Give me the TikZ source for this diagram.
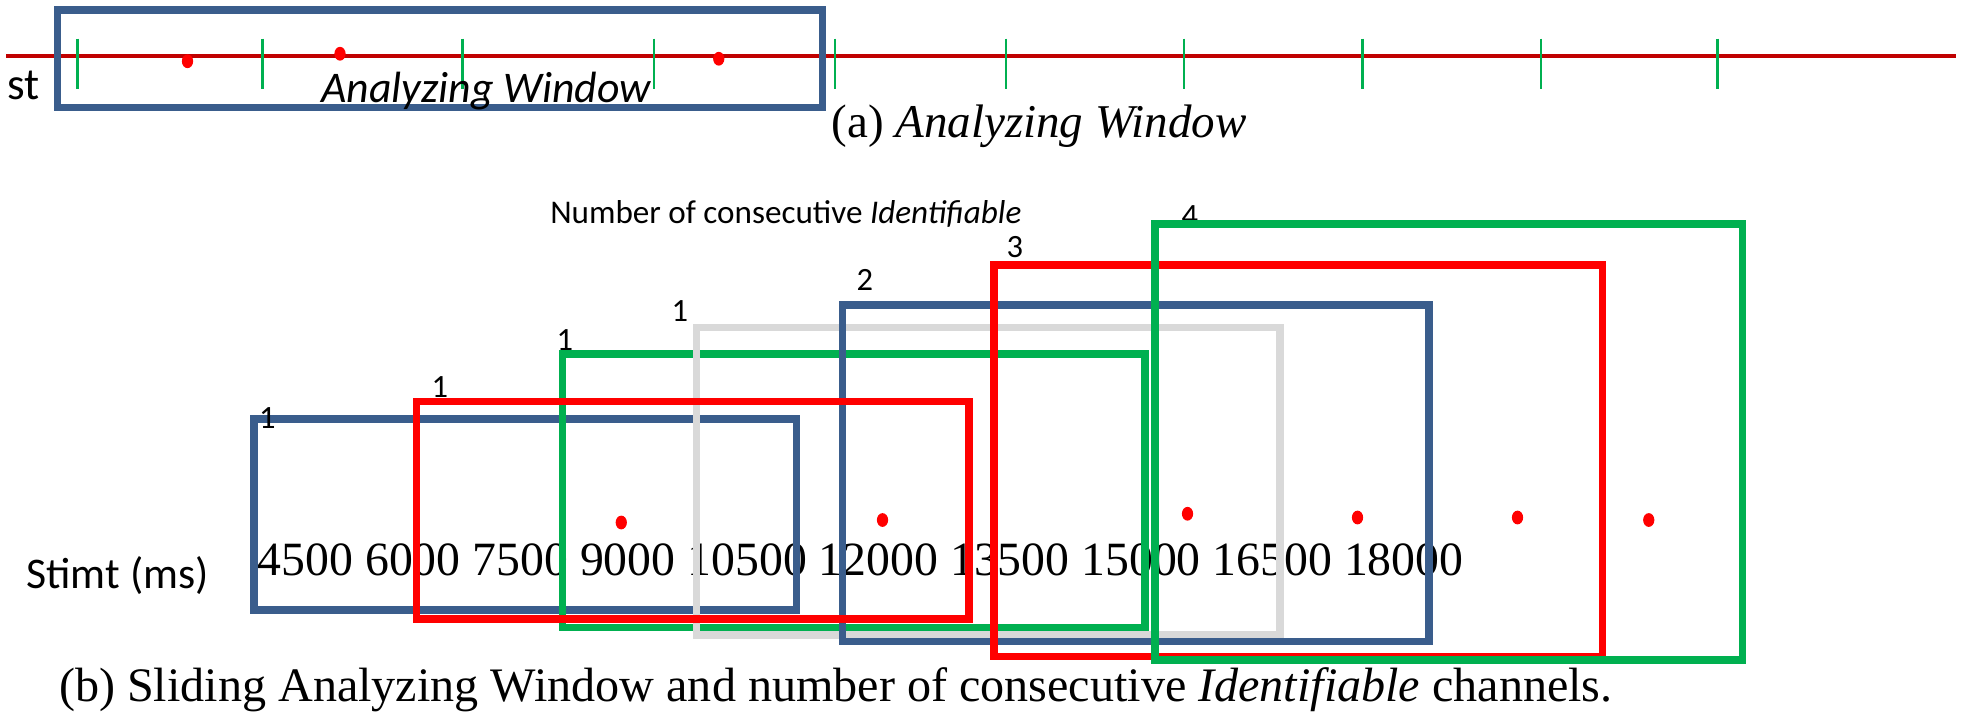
\documentclass[tikz,border=0pt]{standalone}
\usepackage{fontspec}
\setmainfont{Liberation Serif}
\newfontfamily\calfont{Carlito}
\definecolor{boxblue}{HTML}{3A5D8C}
\definecolor{myred}{HTML}{FF0000}
\definecolor{mygreen}{HTML}{00B050}
\definecolor{mygray}{HTML}{D9D9D9}
\definecolor{linered}{HTML}{C00000}
\begin{document}
\begin{tikzpicture}[x=1pt,y=-1pt,
  win/.style={line width=6pt},
  tickmark/.style={draw=mygreen,line width=1.8pt},
  txt/.style={inner sep=0pt,anchor=base west},
  lbl/.style={txt,font=\calfont\fontsize{26}{28}\selectfont},
  reddot/.style={fill=myred,draw=none}]
\useasboundingbox (0,0) rectangle (1582.4,575.2);
% ---------- (a) ----------
\coordinate (L0) at (5,45);
\coordinate (L1) at (1565,45);
\draw[linered,line width=3pt] (L0) -- (L1);
\foreach \x in {62,210,370,523,668,805,947,1090,1233,1374}
  \draw[tickmark] (\x,31) -- (\x,71);
\fill[reddot] (150,49) ellipse (4.5pt and 5.5pt);
\fill[reddot] (272,43) ellipse (4.5pt and 5.5pt);
\fill[reddot] (575,47) ellipse (4.5pt and 5.5pt);
\node[txt,font=\calfont\fontsize{36}{38}\selectfont] (st) at (6,80) {st};
\draw[boxblue,win] (46,8) rectangle (658,86);
\node[txt,font=\calfont\itshape\fontsize{35}{38}\selectfont] (aw) at (257,82) {Analyzing Window};
\node[txt,font=\fontsize{37.6}{40}\selectfont] (capa) at (665,110) {(a) \textit{Analyzing Window}};
% ---------- (b) ----------
\node[txt,font=\calfont\fontsize{26.5}{28}\selectfont] (title) at (440,179) {Number of consecutive \textit{Identifiable}};
\node[txt,font=\calfont\fontsize{35}{37}\selectfont] (stimt) at (21,471) {Stimt (ms)};
\node[txt,font=\fontsize{38.2}{40}\selectfont] (nums) at (206,460) {4500 6000 7500 9000 10500 12000 13500 15000 16500 18000};
\foreach \p in {(497,418),(706,416),(950,411),(1086,414),(1214,414),(1319,416)}
  \fill[reddot] \p ellipse (4.5pt and 5.5pt);
\node[lbl] (n7) at (945,181) {4};
\draw[boxblue,win] (203,335) rectangle (637,488);
\draw[mygreen,win] (450,283) rectangle (916,502);
\draw[mygray,win] (557,262) rectangle (1024,508);
\draw[boxblue,win] (674,244) rectangle (1143,513);
\draw[myred,win] (333,321) rectangle (775,495);
\draw[myred,win] (795,212) rectangle (1282,525);
\draw[mygreen,win] (924,179) rectangle (1394,528);
\node[lbl] (n1) at (207,343) {1};
\node[lbl] (n2) at (345,318) {1};
\node[lbl] (n3) at (445,280) {1};
\node[lbl] (n4) at (537,257) {1};
\node[lbl] (n5) at (685,232) {2};
\node[lbl] (n6) at (805,206) {3};
\node[txt,font=\fontsize{38.5}{40}\selectfont] (capb) at (47,561) {(b) Sliding Analyzing Window and number of consecutive \textit{Identifiable} channels.};
\end{tikzpicture}
\end{document}
